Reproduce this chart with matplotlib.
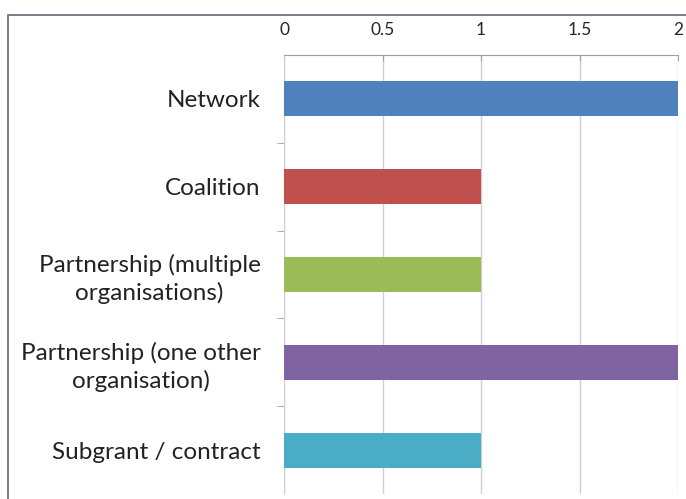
import matplotlib
matplotlib.use("Agg")
import matplotlib.pyplot as plt
from matplotlib.patches import Rectangle

# Chart data
categories = ["Network", "Coalition", "Partnership (multiple\norganisations)",
              "Partnership (one other\norganisation)", "Subgrant / contract"]
values = [2, 1, 1, 2, 1]
colors = ["#4F81BD", "#C0504D", "#9BBB59", "#8064A2", "#4BACC6"]
xticks = [0, 0.5, 1, 1.5, 2]
xtick_labels = ["0", "0.5", "1", "1.5", "2"]

plt.rcParams['font.family'] = ['Lato', 'DejaVu Sans']

fig = plt.figure(figsize=(6.86, 4.99), dpi=100)
ax = fig.add_axes([284 / 686, 1 - 494 / 499, 394 / 686, 439 / 499])

# Outer chart frame (cropped on right and bottom)
fig.patches.append(Rectangle((8 / 686, -0.05), 1.0, 1 - 15 / 499 + 0.05,
                             transform=fig.transFigure, fill=False,
                             edgecolor="#5f6b78", linewidth=1.2))

pos = list(range(len(categories)))
ax.barh(pos, values, height=0.4, color=colors, zorder=3)

ax.set_xlim(0, 2)
ax.set_ylim(len(categories) - 0.5, -0.5)
ax.xaxis.tick_top()
ax.set_xticks(xticks)
ax.set_xticklabels(xtick_labels, fontsize=12.5, color="#262626")
ax.tick_params(axis="x", length=4, direction="in", color="#a0a0a0", pad=12)
ax.grid(axis="x", color="#d0d0d0", linewidth=1, zorder=0)

ax.set_yticks(pos)
ax.set_yticklabels(categories, fontsize=17.5, color="#222222",
                   ha="right", multialignment="center", linespacing=1.3)
ax.tick_params(axis="y", length=0, pad=17)
ax.set_yticks([p + 0.5 for p in pos[:-1]], minor=True)
ax.tick_params(axis="y", which="minor", length=5, color="#a0a0a0")

for side in ["bottom", "right"]:
    ax.spines[side].set_visible(False)
ax.spines["top"].set_color("#a0a0a0")
ax.spines["left"].set_color("#d0d0d0")

fig.savefig("out.png", dpi=100)
